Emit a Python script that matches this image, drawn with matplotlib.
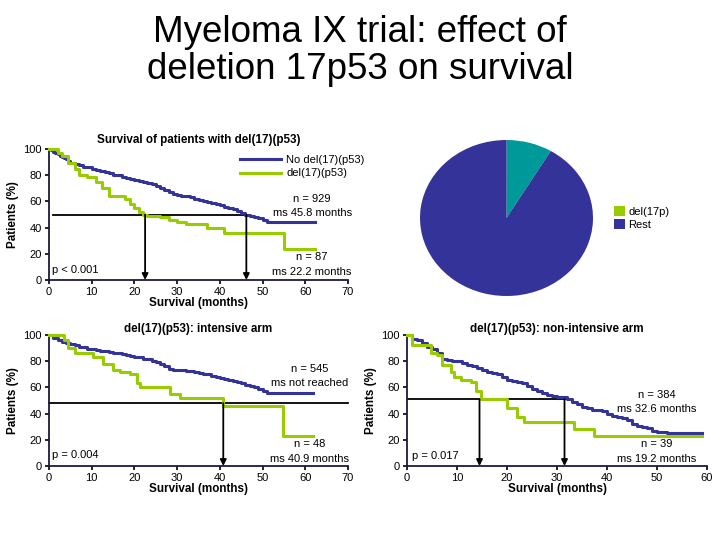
import matplotlib
matplotlib.use("Agg")
import matplotlib.pyplot as plt
from matplotlib.lines import Line2D
from matplotlib.patches import Patch

plt.rcParams['font.family'] = ['Liberation Sans', 'DejaVu Sans']

BLUE = '#333399'
GREEN = '#99CC00'
TEAL = '#009999'

# ---- Data: overall (top-left) ----
all_nodel_t = [0, 0.5, 1, 1.5, 2, 2.5, 3, 3.5, 4, 4.5, 5, 6, 7, 8, 9, 10, 11, 12, 13, 14, 15, 16, 17, 18, 19, 20,
               21, 22, 23, 24, 25, 26, 27, 28, 29, 30, 31, 32, 33, 34, 35, 36, 37, 38, 39, 40, 41, 42, 43, 44, 45,
               46, 47, 48, 49, 50, 51, 62.3]
all_nodel_s = [100, 99, 98, 97, 96, 95, 94, 93, 92, 91, 89.5, 88.5, 87.5, 86.5, 86, 85, 84, 83, 82.5, 81.5, 80.5,
               80, 79, 78, 77, 76, 75.5, 75, 74, 73, 72, 70.5, 69, 67.5, 66, 65, 64.5, 64, 63, 62, 61, 60.5, 59.5,
               58.5, 58, 57, 56, 55, 54, 53, 51.5, 50, 49, 48, 47, 46, 44, 44]
all_del_t = [0, 2, 3, 4.5, 6, 7, 9, 11, 12.5, 14, 17.8, 19, 20, 21, 22, 23, 26, 28, 30, 32, 37, 41, 55, 62.3]
all_del_s = [100, 97, 95, 89, 85, 80, 79, 75, 70, 64, 62, 58, 55, 52, 50, 49, 48, 46, 44, 43, 40, 36, 24, 24]

# ---- Data: intensive arm (bottom-left) ----
int_nodel_t = [0, 1, 2, 3, 4, 5, 6, 7, 8, 9, 10, 11, 12, 13, 14, 15, 16, 17, 18, 19, 20, 21, 22, 23, 24, 25, 26,
               27, 28, 29, 30, 31, 32, 33, 34, 35, 36, 37, 38, 39, 40, 41, 42, 43, 44, 45, 46, 47, 48, 49, 50, 51,
               61.8]
int_nodel_s = [100, 98, 96, 95, 94, 93, 92, 91, 90.5, 89.5, 89, 88.5, 88, 87.5, 87, 86.5, 86, 85.5, 85, 84, 83.5,
               83, 82, 81.5, 80.5, 79.5, 78, 76, 74, 73.5, 73, 73, 72.5, 72.5, 72, 71, 70.5, 70, 69, 68, 67, 66.5,
               66, 65, 64, 63, 62, 61, 60, 58.5, 57.5, 56, 56]
int_del_t = [0, 2.6, 3.4, 4.5, 6, 10.4, 12.7, 15, 16.6, 18.9, 20.5, 21.3, 28.3, 30.6, 40.8, 54.8, 61.8]
int_del_s = [100, 100, 96, 90, 86, 83, 78, 73, 72, 70, 63, 60, 55, 52, 46, 23, 23]

# ---- Data: non-intensive arm (bottom-right) ----
non_nodel_t = [0, 1, 2, 3, 4, 5, 6, 7, 8, 9, 10, 11, 12, 13, 14, 15, 16, 17, 18, 19, 20, 21, 22, 23, 24, 25, 26,
               27, 28, 29, 30, 31, 32, 33, 34, 35, 36, 37, 38, 39, 40, 41, 42, 43, 44, 45, 46, 47, 48, 49, 50, 51,
               52, 59]
non_nodel_s = [100, 97, 96, 94, 91, 89, 86, 82, 81, 80, 80, 79, 77, 76, 74.5, 73.5, 72, 71, 70, 68, 66, 65, 64,
               63, 61, 59, 57, 55.5, 54, 53.5, 53, 52.5, 51, 49, 47, 45, 44, 43, 42.5, 42, 40, 38, 37.5, 37, 35, 32,
               30.5, 30, 29, 27, 26, 26, 25.5, 25.5]
non_del_t = [0, 1, 4.7, 6, 7, 8.7, 9.3, 10.7, 12.7, 13.7, 14.7, 19, 20, 22, 23.3, 33.3, 37.3, 59]
non_del_s = [100, 92, 86, 85, 77, 72, 68, 65.6, 64, 57, 51, 51, 44, 37.5, 33.5, 28.5, 23, 23]

# ---- Pie ----
pie_labels = ['del(17p)', 'Rest']
pie_values = [87, 929]

series_labels = ['No del(17)(p53)', 'del(17)(p53)']

W, H = 720, 540
fig = plt.figure(figsize=(7.2, 5.4), dpi=100)
fig.patch.set_facecolor('white')

BOLD = 8.4


def px_axes(x0, x1, ytop, ybot):
    return fig.add_axes([x0 / W, 1 - ybot / H, (x1 - x0) / W, (ybot - ytop) / H])


def style_km(ax, xmax, xstep):
    ax.set_xlim(0, xmax)
    ax.set_ylim(0, 100)
    ax.set_xticks(range(0, xmax + 1, xstep))
    ax.set_yticks(range(0, 101, 20))
    for s in ['top', 'right']:
        ax.spines[s].set_visible(False)
    for s in ['left', 'bottom']:
        ax.spines[s].set_linewidth(1.3)
        ax.spines[s].set_color('#1a1a40')
    ax.tick_params(direction='out', length=3, width=1.2, labelsize=8, pad=2)
    ax.set_ylabel('Patients (%)', fontsize=BOLD, fontweight='bold', labelpad=3)
    ax.set_xlabel('Survival (months)', fontsize=BOLD, fontweight='bold', labelpad=0)


def median_arrow(ax, x, y):
    ax.annotate('', xy=(x, 0), xytext=(x, y),
                arrowprops=dict(arrowstyle='-|>', color='black', lw=1.3,
                                mutation_scale=9, shrinkA=0, shrinkB=0),
                annotation_clip=False)


txt = dict(fontsize=8, ha='center', va='center')

# Top-left
ax1 = px_axes(49, 348, 149, 280)
ax1.step(all_nodel_t, all_nodel_s, where='post', color=BLUE, lw=2.2, clip_on=False, zorder=3)
ax1.step(all_del_t, all_del_s, where='post', color=GREEN, lw=2.2, clip_on=False, zorder=3)
style_km(ax1, 70, 10)
ax1.plot([1, 46.2], [50, 50], color='black', lw=1.3, zorder=2)
median_arrow(ax1, 22.5, 50)
median_arrow(ax1, 46.2, 50)
ax1.set_title('Survival of patients with del(17)(p53)', fontsize=BOLD, fontweight='bold', pad=4, x=0.5)
ax1.text(61.6, 61.8, 'n = 929', **txt)
ax1.text(61.6, 51, 'ms 45.8 months', **txt)
ax1.text(61.6, 17.5, 'n = 87', **txt)
ax1.text(61.6, 6, 'ms 22.2 months', **txt)
ax1.text(0.7, 7.6, 'p < 0.001', fontsize=8, ha='left', va='center')
handles = [Line2D([], [], color=BLUE, lw=2.2), Line2D([], [], color=GREEN, lw=2.2)]
ax1.legend(handles, series_labels, loc='upper right', bbox_to_anchor=(1.075, 1.0),
           frameon=False, fontsize=8, handlelength=3.7, handletextpad=0.5,
           labelspacing=0.35, borderpad=0)

# Bottom-left
ax2 = px_axes(49, 348, 335, 466)
ax2.step(int_nodel_t, int_nodel_s, where='post', color=BLUE, lw=2.2, clip_on=False, zorder=3)
ax2.step(int_del_t, int_del_s, where='post', color=GREEN, lw=2.2, clip_on=False, zorder=3)
style_km(ax2, 70, 10)
ax2.plot([0, 70], [48, 48], color='black', lw=1.3, zorder=2, clip_on=False)
median_arrow(ax2, 40.8, 48)
ax2.set_title('del(17)(p53): intensive arm', fontsize=BOLD, fontweight='bold', pad=2)
ax2.text(61, 74, 'n = 545', **txt)
ax2.text(61, 63, 'ms not reached', **txt)
ax2.text(61, 17, 'n = 48', **txt)
ax2.text(61, 5.3, 'ms 40.9 months', **txt)
ax2.text(0.7, 8.4, 'p = 0.004', fontsize=8, ha='left', va='center')

# Bottom-right
ax3 = px_axes(407, 707, 335, 466)
ax3.step(non_nodel_t, non_nodel_s, where='post', color=BLUE, lw=2.2, clip_on=False, zorder=3)
ax3.step(non_del_t, non_del_s, where='post', color=GREEN, lw=2.2, clip_on=False, zorder=3)
style_km(ax3, 60, 10)
ax3.plot([0, 31.5], [51, 51], color='black', lw=1.3, zorder=2)
median_arrow(ax3, 14.5, 51)
median_arrow(ax3, 31.5, 51)
ax3.set_title('del(17)(p53): non-intensive arm', fontsize=BOLD, fontweight='bold', pad=2)
ax3.text(50, 54, 'n = 384', **txt)
ax3.text(50, 43.5, 'ms 32.6 months', **txt)
ax3.text(50, 17, 'n = 39', **txt)
ax3.text(50, 5.3, 'ms 19.2 months', **txt)
ax3.text(1, 7.6, 'p = 0.017', fontsize=8, ha='left', va='center')

# Pie
ax4 = px_axes(420, 593, 140, 296)
ax4.pie(pie_values, colors=[TEAL, BLUE], startangle=90, counterclock=False,
        wedgeprops=dict(linewidth=0))
ax4.set_aspect('auto')
ax4.set_xlim(-1, 1)
ax4.set_ylim(-1, 1)
ph = [Patch(facecolor=GREEN, edgecolor='none'), Patch(facecolor=BLUE, edgecolor='none')]
ax4.legend(ph, pie_labels, loc='center left', bbox_to_anchor=(1.09, 0.5), frameon=False,
           fontsize=8, handlelength=1.0, handleheight=1.0, handletextpad=0.3,
           labelspacing=0.2, borderpad=0)

# Main title
fig.text(0.5, 1 - 51 / H, 'Myeloma IX trial: effect of\ndeletion 17p53 on survival',
         ha='center', va='center', fontsize=26.5, linespacing=1.1)

fig.savefig('out.png', dpi=100, facecolor='white')
